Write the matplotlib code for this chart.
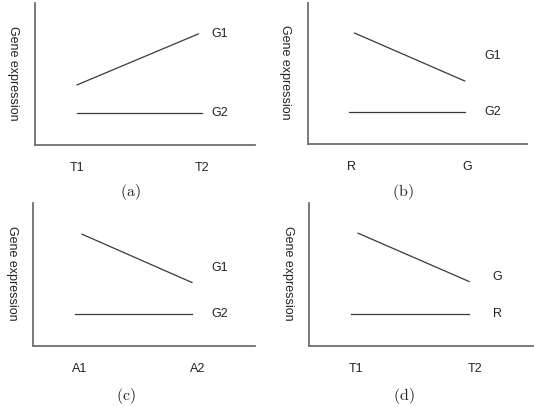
import matplotlib.pyplot as plt

plt.rcParams['font.family'] = ['Liberation Sans', 'DejaVu Sans']
plt.rcParams['mathtext.fontset'] = 'cm'

# x categories per panel
cats_a = ['T1', 'T2']
cats_b = ['R', 'G']
cats_c = ['A1', 'A2']
cats_d = ['T1', 'T2']

# line endpoints (x in category units, y on a 0-10 scale)
a_top_x = [0.0, 0.97]
a_top_y = [4.23, 7.82]
a_bot_x = [0.0, 1.0]
a_bot_y = [2.25, 2.25]

b_top_x = [0.03, 0.98]
b_top_y = [7.87, 4.47]
b_bot_x = [-0.02, 0.98]
b_bot_y = [2.27, 2.27]

c_top_x = [0.017, 0.949]
c_top_y = [7.82, 4.44]
c_bot_x = [-0.042, 0.949]
c_bot_y = [2.25, 2.25]

d_top_x = [0.017, 0.95]
d_top_y = [7.89, 4.51]
d_bot_x = [-0.042, 0.95]
d_bot_y = [2.25, 2.25]

names_a = ['G1', 'G2']
names_b = ['G1', 'G2']
names_c = ['G1', 'G2']
names_d = ['G', 'R']

W, H = 534, 407
fig = plt.figure(figsize=(W / 100, H / 100), dpi=100)

# panel layout in pixels: left, right, top, bottom, xlim, label x, label y's, caption
panels = [
    dict(box=(35, 255, 3, 145), xlim=(-0.336, 1.424), cats=cats_a,
         top=(a_top_x, a_top_y), bot=(a_bot_x, a_bot_y), names=names_a,
         lx=1.144, ly=(7.82, 2.25), cap='(a)', capx=130, capy=192, ylx=13),
    dict(box=(308, 527, 3, 144), xlim=(-0.371, 1.517), cats=cats_b,
         top=(b_top_x, b_top_y), bot=(b_bot_x, b_bot_y), names=names_b,
         lx=1.22, ly=(6.24, 2.27), cap='(b)', capx=403, capy=192, ylx=285),
    dict(box=(33, 255, 203, 346), xlim=(-0.398, 1.483), cats=cats_c,
         top=(c_top_x, c_top_y), bot=(c_bot_x, c_bot_y), names=names_c,
         lx=1.186, ly=(5.42, 2.25), cap='(c)', capx=126, capy=396, ylx=12),
    dict(box=(309, 533, 203, 346), xlim=(-0.395, 1.487), cats=cats_d,
         top=(d_top_x, d_top_y), bot=(d_bot_x, d_bot_y), names=names_d,
         lx=1.185, ly=(4.86, 2.25), cap='(d)', capx=404, capy=396, ylx=288),
]

line_col = '#3a3a3a'
axis_col = '#707070'

for p in panels:
    l, r, t, b = p['box']
    ax = fig.add_axes([l / W, 1 - b / H, (r - l) / W, (b - t) / H])
    ax.plot(p['top'][0], p['top'][1], color=line_col, lw=0.9)
    ax.plot(p['bot'][0], p['bot'][1], color=line_col, lw=0.9)
    ax.set_xlim(*p['xlim'])
    ax.set_ylim(0, 10)
    for s in ['top', 'right']:
        ax.spines[s].set_visible(False)
    for s in ['left', 'bottom']:
        ax.spines[s].set_color(axis_col)
        ax.spines[s].set_linewidth(1.3)
    ax.set_xticks([0, 1])
    ax.set_xticklabels(p['cats'], fontsize=9, color='#222222')
    ax.tick_params(axis='x', length=0, pad=12)
    ax.set_yticks([])
    for name, y in zip(p['names'], p['ly']):
        ax.text(p['lx'], y, name, fontsize=9, color='#222222',
                ha='center', va='center')
    fig.text(p['ylx'] / W, 1 - ((t + b) / 2 - 1) / H, 'Gene expression',
             rotation=270, fontsize=9, color='#222222',
             ha='center', va='center')
    fig.text(p['capx'] / W, 1 - p['capy'] / H, r'$\mathrm{' + p['cap'] + '}$',
             fontsize=11.5, color='#222222', ha='center', va='center')

fig.savefig('out.png', dpi=100)
